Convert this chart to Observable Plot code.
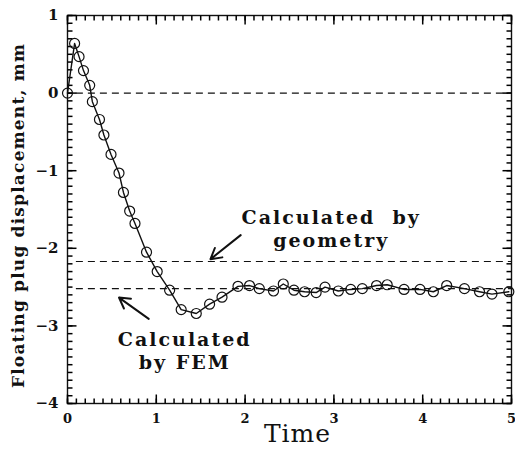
<!DOCTYPE html>
<html><head><meta charset="utf-8">
<script src="https://cdn.jsdelivr.net/npm/d3@7"></script>
<script src="https://cdn.jsdelivr.net/npm/@observablehq/plot@0.6"></script>
<style>
body{margin:0;background:#fff}
</style>
</head><body><div id="chart"></div>
<script>
// FEM displacement of floating plug over time
const time = [0, 0.08, 0.13, 0.18, 0.25, 0.28, 0.36, 0.41, 0.49, 0.58, 0.63, 0.70, 0.76, 0.89, 1.01, 1.15, 1.28, 1.45, 1.60, 1.74, 1.92, 2.05, 2.16, 2.32, 2.43, 2.55, 2.67, 2.80, 2.90, 3.05, 3.19, 3.32, 3.48, 3.60, 3.79, 3.97, 4.12, 4.27, 4.47, 4.64, 4.78, 4.97];
const displacement = [0, 0.64, 0.47, 0.29, 0.10, -0.11, -0.34, -0.54, -0.79, -1.03, -1.28, -1.52, -1.68, -2.05, -2.30, -2.54, -2.79, -2.84, -2.72, -2.63, -2.49, -2.48, -2.52, -2.55, -2.46, -2.54, -2.56, -2.57, -2.50, -2.55, -2.53, -2.52, -2.48, -2.47, -2.53, -2.53, -2.56, -2.48, -2.52, -2.56, -2.59, -2.56];

// reference levels
const levelNames = ["zero", "geometry", "FEM"];
const levelValues = [0, -2.17, -2.52];
const levelStart = 0.1;
const levelEnd = 5;

// annotations
const noteTexts = ["Calculated\u00A0\u00A0by\ngeometry", "Calculated\nby FEM"];
const noteX = [2.97, 1.32];
const noteY = [-1.74, -3.31];
const arrowX1 = [1.95, 0.915];
const arrowY1 = [-1.83, -2.91];
const arrowX2 = [1.61, 0.58];
const arrowY2 = [-2.14, -2.635];

// ticks
const xDomain = [0, 5];
const yDomain = [-4, 1];
const xTicks = [0, 1, 2, 3, 4, 5];
const yTicks = [1, 0, -1, -2, -3, -4];
const xLabel = "Time";
const yLabel = "Floating plug displacement, mm";

const series = time.map((t, i) => ({t, v: displacement[i]}));
const levels = levelNames.map((n, i) => ({n, v: levelValues[i]}));
const notes = noteTexts.map((s, i) => ({s, x: noteX[i], y: noteY[i], x1: arrowX1[i], y1: arrowY1[i], x2: arrowX2[i], y2: arrowY2[i]}));
const xMinor = d3.range(0, 51, 1).map(d => ({v: d / 10}));
const yMinor = d3.range(-40, 11, 1).map(d => ({v: d / 10}));
const xMajor = xTicks.map(v => ({v}));
const yMajor = yTicks.map(v => ({v}));

const W = 515, H = 451, mL = 67, mR = 4, mT = 15, mB = 48;
const fw = W - mL - mR, fh = H - mT - mB;
// tick lengths in pixels converted to data units
const pxX = (xDomain[1] - xDomain[0]) / fw, pxY = (yDomain[1] - yDomain[0]) / fh;
const minorLen = 5, majorLen = 9;
const tk = {stroke: "#000", strokeWidth: 1.5};

function ticksX(vals, len) {
  return [
    Plot.link(vals, {x1: "v", x2: "v", y1: () => yDomain[0], y2: () => yDomain[0] + len * pxY, ...tk}),
    Plot.link(vals, {x1: "v", x2: "v", y1: () => yDomain[1], y2: () => yDomain[1] - len * pxY, ...tk})
  ];
}
function ticksY(vals, len) {
  return [
    Plot.link(vals, {y1: "v", y2: "v", x1: () => xDomain[0], x2: () => xDomain[0] + len * pxX, ...tk}),
    Plot.link(vals, {y1: "v", y2: "v", x1: () => xDomain[1], x2: () => xDomain[1] - len * pxX, ...tk})
  ];
}

const serif = "DejaVu Serif";
const chart = Plot.plot({
  width: W,
  height: H,
  marginLeft: mL,
  marginRight: mR,
  marginTop: mT,
  marginBottom: mB,
  x: {domain: xDomain},
  y: {domain: yDomain},
  axis: null,
  style: {fontFamily: serif, color: "#111", background: "#fff"},
  marks: [
    Plot.frame({stroke: "#111", strokeWidth: 1.4}),
    ...ticksX(xMinor, minorLen),
    ...ticksX(xMajor, majorLen),
    ...ticksY(yMinor, minorLen),
    ...ticksY(yMajor, majorLen),
    Plot.ruleY(levels, {y: "v", x1: levelStart, x2: levelEnd, stroke: "#111", strokeWidth: 1.2, strokeDasharray: "7,5"}),
    Plot.line(series, {x: "t", y: "v", stroke: "#111", strokeWidth: 1.4}),
    Plot.dot(series, {x: "t", y: "v", r: 5, stroke: "#111", fill: "none", strokeWidth: 1.2}),
    Plot.arrow(notes, {x1: "x1", y1: "y1", x2: "x2", y2: "y2", stroke: "#111", strokeWidth: 2, headLength: 9, bend: 0}),
    Plot.text(notes, {x: "x", y: "y", text: "s", fontSize: 19, fontWeight: "bold", lineHeight: 1.22, fill: "#111"}),
    Plot.text([xLabel], {text: d => d, frameAnchor: "bottom", dy: 38, dx: 8, fontSize: 25, fill: "#111"}),
    Plot.text([yLabel], {text: d => d, frameAnchor: "left", textAnchor: "middle", rotate: -90, dx: -49, dy: 6, fontSize: 17, fontWeight: "bold", fill: "#111"}),
    // labels
    Plot.axisX(xTicks, {anchor: "bottom", tickSize: 0, tickPadding: 10, tickFormat: "d", fontSize: 13, fontWeight: "bold", label: null}),
    Plot.axisY(yTicks, {anchor: "left", tickSize: 0, tickPadding: 9, tickFormat: "d", fontSize: 15, fontWeight: "bold", label: null})
  ]
});
const textGroups = chart.querySelectorAll('g[aria-label="text"]');
const spacing = ["2px", "1px", "1.2px"];
textGroups.forEach((g, i) => { if (spacing[i]) g.style.letterSpacing = spacing[i]; });
document.getElementById("chart").append(chart);
</script>
</body></html>
